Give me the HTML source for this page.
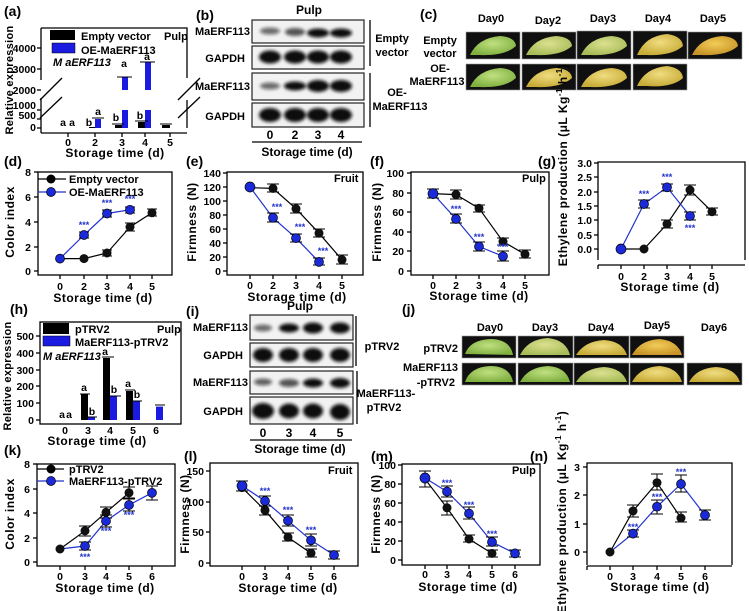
<!DOCTYPE html>
<html><head><meta charset="utf-8"><style>
html,body{margin:0;padding:0;background:#fff;}
svg{display:block;font-family:"Liberation Sans",Arial,sans-serif;font-weight:bold;}
.t{font-size:10.5px;}
.ti{font-size:12px;}
.lg{font-size:11px;}
.p{font-size:14px;}
.s{font-size:9px;fill:#2233cc;}
</style></head><body>
<svg width="749" height="611" viewBox="0 0 749 611" xmlns="http://www.w3.org/2000/svg">
<defs>
<filter id="bl" x="-20%" y="-50%" width="140%" height="200%"><feGaussianBlur stdDeviation="1.6"/></filter>
<radialGradient id="gG" cx="50%" cy="40%" r="60%"><stop offset="0" stop-color="#c0e080"/><stop offset="1" stop-color="#80b040"/></radialGradient>
<radialGradient id="gL" cx="50%" cy="40%" r="60%"><stop offset="0" stop-color="#dce090"/><stop offset="1" stop-color="#a8bc58"/></radialGradient>
<radialGradient id="gY" cx="50%" cy="40%" r="60%"><stop offset="0" stop-color="#f0dc80"/><stop offset="1" stop-color="#c8ac38"/></radialGradient>
<radialGradient id="gO" cx="50%" cy="40%" r="60%"><stop offset="0" stop-color="#f2cc58"/><stop offset="1" stop-color="#c89428"/></radialGradient>
</defs>

<!-- ================= (a) ================= -->
<text x="4" y="16" class="p">(a)</text>
<g fill="none" stroke="#000" stroke-width="1.3">
<polyline points="41,28 187,28 187,78"/><line x1="187" y1="100" x2="187" y2="128"/>
<line x1="41" y1="28" x2="41" y2="80"/><line x1="41" y1="98" x2="41" y2="133"/>
<line x1="41" y1="133" x2="187" y2="133"/>
<line x1="37" y1="48" x2="41" y2="48"/><line x1="37" y1="69" x2="41" y2="69"/><line x1="37" y1="90" x2="41" y2="90"/><line x1="37" y1="110" x2="41" y2="110"/><line x1="37" y1="119" x2="41" y2="119"/><line x1="37" y1="128" x2="41" y2="128"/>
<line x1="68" y1="133" x2="68" y2="137"/><line x1="95" y1="133" x2="95" y2="137"/><line x1="122" y1="133" x2="122" y2="137"/><line x1="145" y1="133" x2="145" y2="137"/><line x1="170" y1="133" x2="170" y2="137"/>
<line x1="40" y1="100" x2="62" y2="78"/><line x1="40" y1="118" x2="62" y2="97"/>
<line x1="178" y1="100" x2="200" y2="78"/><line x1="178" y1="118" x2="200" y2="97"/>
</g>
<g class="t" text-anchor="end"><text x="36" y="52">4000</text><text x="36" y="73">3000</text><text x="36" y="94">2000</text><text x="36" y="109">1000</text><text x="36" y="119">500</text><text x="36" y="131">0</text></g>
<g class="t" text-anchor="middle"><text x="68" y="146">0</text><text x="95" y="146">2</text><text x="122" y="146">3</text><text x="145" y="146">4</text><text x="170" y="146">5</text></g>
<text x="115" y="157" class="ti" text-anchor="middle" style="letter-spacing:0.5px">Storage time (d)</text>
<text transform="translate(13,80) rotate(-90)" class="lg" text-anchor="middle" style="letter-spacing:0.3px">Relative expression</text>
<rect x="50" y="30" width="25" height="10" fill="#000"/><rect x="52" y="43" width="23" height="10" fill="#1a1ae0" stroke="#000" stroke-width="0.5"/>
<text x="81" y="40" class="lg">Empty vector</text><text x="81" y="54" class="lg">OE-MaERF113</text>
<text x="164" y="40" class="lg">Pulp</text>
<text x="53" y="66" class="lg" font-style="italic">M aERF113</text>
<g fill="#000"><rect x="89" y="127" width="6" height="1"/><rect x="115" y="125" width="7" height="3"/><rect x="138" y="122" width="7" height="6"/><rect x="162" y="125" width="8" height="3"/></g>
<g fill="#1a1ae0"><rect x="95" y="119" width="6" height="9"/><rect x="122" y="110" width="6" height="18"/><rect x="122" y="77" width="6" height="13"/><rect x="145" y="110" width="6" height="18"/><rect x="145" y="62" width="6" height="28"/></g>
<g stroke="#000" stroke-width="1"><line x1="92" y1="118" x2="104" y2="118"/><line x1="117" y1="77" x2="132" y2="77"/><line x1="140" y1="62" x2="155" y2="62"/><line x1="112" y1="124" x2="124" y2="124"/><line x1="135" y1="121" x2="148" y2="121"/><line x1="160" y1="124" x2="172" y2="124"/></g>
<g class="t" text-anchor="middle"><text x="63" y="126">a</text><text x="72" y="126">a</text><text x="89" y="126">b</text><text x="98" y="115">a</text><text x="116" y="121">b</text><text x="124" y="67">a</text><text x="140" y="119">b</text><text x="147" y="60">a</text></g>

<!-- ================= (b) ================= -->
<text x="196" y="20" class="p">(b)</text>
<text x="309" y="14" class="ti" text-anchor="middle">Pulp</text>
<g fill="#f2f2f2" stroke="#222" stroke-width="1.2"><rect x="252" y="20" width="112" height="23"/><rect x="252" y="46" width="112" height="23"/><rect x="252" y="73" width="112" height="27"/><rect x="252" y="103" width="112" height="24"/></g>
<g fill="#111" filter="url(#bl)">
<ellipse cx="270" cy="31" rx="10" ry="3.5" opacity="0.6"/><ellipse cx="295" cy="32" rx="10" ry="4" opacity="0.7"/><ellipse cx="318" cy="33" rx="11" ry="4.5"/><ellipse cx="341" cy="33" rx="11" ry="4.5"/>
<ellipse cx="270" cy="57" rx="11" ry="6.5"/><ellipse cx="295" cy="57" rx="11" ry="6.5"/><ellipse cx="318" cy="57" rx="11" ry="6.5"/><ellipse cx="341" cy="57" rx="11" ry="6.5"/>
<ellipse cx="270" cy="86" rx="10" ry="3.5" opacity="0.6"/><ellipse cx="295" cy="86" rx="11" ry="4.5"/><ellipse cx="318" cy="86" rx="11" ry="6"/><ellipse cx="341" cy="86" rx="11" ry="6"/>
<ellipse cx="270" cy="115" rx="11" ry="7"/><ellipse cx="295" cy="115" rx="11" ry="7"/><ellipse cx="318" cy="115" rx="11" ry="7"/><ellipse cx="341" cy="115" rx="11" ry="7"/>
</g>
<g class="lg" text-anchor="end"><text x="250" y="35">MaERF113</text><text x="245" y="62">GAPDH</text><text x="250" y="90">MaERF113</text><text x="245" y="120">GAPDH</text></g>
<g class="ti" text-anchor="middle"><text x="270" y="139">0</text><text x="295" y="139">2</text><text x="318" y="139">3</text><text x="341" y="139">4</text></g>
<line x1="252" y1="142" x2="362" y2="142" stroke="#000" stroke-width="1.2"/>
<text x="307" y="156" class="ti" text-anchor="middle">Storage time (d)</text>
<g stroke="#000" stroke-width="1.3"><line x1="370" y1="20" x2="370" y2="66"/><line x1="370" y1="73" x2="370" y2="127"/></g>
<g class="lg" text-anchor="middle"><text x="392" y="42">Empty</text><text x="392" y="56">vector</text><text x="397" y="96">OE-</text><text x="400" y="110">MaERF113</text></g>

<!-- ================= (c) ================= -->
<text x="420" y="19" class="p">(c)</text>
<g class="lg" text-anchor="middle"><text x="491" y="22">Day0</text><text x="548" y="24">Day2</text><text x="603" y="22">Day3</text><text x="658" y="22">Day4</text><text x="713" y="22">Day5</text>
<text x="440" y="44">Empty</text><text x="440" y="57">vector</text><text x="440" y="72">OE-</text><text x="437" y="85">MaERF113</text></g>
<g fill="#101010" stroke="#999" stroke-width="0.6">
<rect x="466" y="32" width="54" height="27"/><rect x="522" y="32" width="54" height="27"/><rect x="577" y="31" width="54" height="28"/><rect x="633" y="31" width="54" height="28"/><rect x="688" y="32" width="54" height="27"/>
<rect x="466" y="64" width="54" height="26"/><rect x="522" y="64" width="54" height="26"/><rect x="577" y="64" width="54" height="26"/><rect x="633" y="64" width="54" height="26"/>
</g>
<g>
<path d="M470,55 Q478,38 500,36 Q515,37 516,46 Q505,56 480,55 Z" fill="url(#gG)"/>
<path d="M526,55 Q534,38 556,36 Q571,37 572,46 Q561,56 536,55 Z" fill="url(#gL)"/>
<path d="M581,55 Q589,38 611,36 Q626,37 627,46 Q616,56 591,55 Z" fill="url(#gL)"/>
<path d="M637,55 Q645,36 667,34 Q682,36 683,46 Q672,56 647,55 Z" fill="url(#gY)"/>
<path d="M692,55 Q700,38 722,36 Q737,37 738,46 Q727,56 702,55 Z" fill="url(#gO)"/>
<path d="M470,87 Q478,70 500,68 Q515,69 516,78 Q505,88 480,87 Z" fill="url(#gG)"/>
<path d="M526,87 Q534,70 556,68 Q571,69 572,78 Q561,88 536,87 Z" fill="url(#gY)"/>
<path d="M581,87 Q589,70 611,68 Q626,69 627,78 Q616,88 591,87 Z" fill="url(#gY)"/>
<path d="M637,86 Q645,68 667,66 Q682,68 683,78 Q672,88 647,86 Z" fill="url(#gY)"/>
</g>

<!-- ================= (d) ================= -->
<text x="4" y="166" class="p">(d)</text>
<g fill="none" stroke="#000" stroke-width="1.3"><rect x="38" y="172" width="134" height="103"/>
<line x1="34" y1="172" x2="38" y2="172"/><line x1="34" y1="197" x2="38" y2="197"/><line x1="34" y1="222" x2="38" y2="222"/><line x1="34" y1="247" x2="38" y2="247"/><line x1="34" y1="271" x2="38" y2="271"/>
<line x1="60" y1="275" x2="60" y2="279"/><line x1="84" y1="275" x2="84" y2="279"/><line x1="107" y1="275" x2="107" y2="279"/><line x1="130" y1="275" x2="130" y2="279"/><line x1="152" y1="275" x2="152" y2="279"/></g>
<g class="t" text-anchor="end"><text x="31" y="176">8</text><text x="31" y="201">6</text><text x="31" y="226">4</text><text x="31" y="251">2</text><text x="31" y="275">0</text></g>
<g class="t" text-anchor="middle"><text x="60" y="290">0</text><text x="84" y="290">2</text><text x="107" y="290">3</text><text x="130" y="290">4</text><text x="152" y="290">5</text></g>
<text x="103" y="302" class="ti" text-anchor="middle" style="letter-spacing:0.5px">Storage time (d)</text>
<text transform="translate(14,222) rotate(-90)" class="ti" text-anchor="middle" style="letter-spacing:0.5px">Color index</text>
<line x1="38" y1="179" x2="66" y2="179" stroke="#000" stroke-width="1.3"/><circle cx="51" cy="179" r="4.5"/>
<line x1="38" y1="192" x2="66" y2="192" stroke="#2233cc" stroke-width="1.3"/><circle cx="51" cy="192" r="4.5" fill="#1a2ad8" stroke="#000" stroke-width="0.7"/>
<text x="69" y="183" class="lg">Empty vector</text><text x="69" y="196" class="lg">OE-MaERF113</text>
<polyline points="60,258.6 84,258.6 107,253 130,227 152,212.8" fill="none" stroke="#000" stroke-width="1.2"/>
<polyline points="60,258.6 84,235 107,213.5 130,209.8" fill="none" stroke="#2233cc" stroke-width="1.2"/>
<g stroke="#000" stroke-width="1"><path d="M84,232v6M79,232h10M79,238h10M107,250v6M102,250h10M102,256h10M130,223v8M125,223h10M125,231h10M152,209v7M147,209h10M147,216h10M107,210v7M102,210h10M102,217h10M130,207v6M125,207h10M125,213h10"/></g>
<g fill="#111"><circle cx="84" cy="258.6" r="4.5"/><circle cx="107" cy="253" r="4.5"/><circle cx="130" cy="227" r="4.5"/><circle cx="152" cy="212.8" r="4.5"/></g>
<g fill="#1a2ad8" stroke="#000" stroke-width="0.7"><circle cx="60" cy="258.6" r="4.5"/><circle cx="84" cy="235" r="4.5"/><circle cx="107" cy="213.5" r="4.5"/><circle cx="130" cy="209.8" r="4.5"/></g>
<g class="s" text-anchor="middle"><text x="84" y="228">***</text><text x="107" y="206">***</text><text x="130" y="202">***</text></g>

<!-- ================= (e) ================= -->
<text x="186" y="166" class="p">(e)</text>
<g fill="none" stroke="#000" stroke-width="1.3"><rect x="227" y="172" width="136" height="103"/>
<line x1="223" y1="173" x2="227" y2="173"/><line x1="223" y1="187" x2="227" y2="187"/><line x1="223" y1="201" x2="227" y2="201"/><line x1="223" y1="215" x2="227" y2="215"/><line x1="223" y1="229" x2="227" y2="229"/><line x1="223" y1="243" x2="227" y2="243"/><line x1="223" y1="257" x2="227" y2="257"/><line x1="223" y1="271" x2="227" y2="271"/>
<line x1="250" y1="275" x2="250" y2="279"/><line x1="273" y1="275" x2="273" y2="279"/><line x1="296" y1="275" x2="296" y2="279"/><line x1="319" y1="275" x2="319" y2="279"/><line x1="342" y1="275" x2="342" y2="279"/></g>
<g class="t" text-anchor="end"><text x="221" y="177">140</text><text x="221" y="191">120</text><text x="221" y="205">100</text><text x="221" y="219">80</text><text x="221" y="233">60</text><text x="221" y="247">40</text><text x="221" y="261">20</text><text x="221" y="275">0</text></g>
<g class="t" text-anchor="middle"><text x="250" y="289">0</text><text x="273" y="289">2</text><text x="296" y="289">3</text><text x="319" y="289">4</text><text x="342" y="289">5</text></g>
<text x="297" y="301" class="ti" text-anchor="middle" style="letter-spacing:0.5px">Storage time (d)</text>
<text transform="translate(196,222) rotate(-90)" class="ti" text-anchor="middle" style="letter-spacing:0.5px">Firmness (N)</text>
<text x="334" y="182" class="lg">Fruit</text>
<polyline points="250,187.7 273,188.4 296,208.7 319,233.2 342,259.8" fill="none" stroke="#000" stroke-width="1.2"/>
<polyline points="250,187 273,217.8 296,238.1 319,261.9" fill="none" stroke="#2233cc" stroke-width="1.2"/>
<g stroke="#000" stroke-width="1"><path d="M273,184v8M267,184h12M267,192h12M296,204v9M290,204h12M290,213h12M319,229v8M313,229h12M313,237h12M342,255v9M336,255h12M336,264h12M273,213v9M267,213h12M267,222h12M296,234v8M290,234h12M290,242h12M319,258v7M313,258h12M313,265h12"/></g>
<g fill="#111"><circle cx="273" cy="188.4" r="4.5"/><circle cx="296" cy="208.7" r="4.5"/><circle cx="319" cy="233.2" r="4.5"/><circle cx="342" cy="259.8" r="4.5"/></g>
<g fill="#1a2ad8" stroke="#000" stroke-width="0.7"><circle cx="250" cy="187" r="5"/><circle cx="273" cy="217.8" r="4.5"/><circle cx="296" cy="238.1" r="4.5"/><circle cx="319" cy="261.9" r="4.5"/></g>
<g class="s" text-anchor="middle"><text x="277" y="210">***</text><text x="300" y="230">***</text><text x="323" y="254">***</text></g>

<!-- ================= (f) ================= -->
<text x="370" y="166" class="p">(f)</text>
<g fill="none" stroke="#000" stroke-width="1.3"><rect x="411" y="172" width="138" height="103"/>
<line x1="407" y1="173" x2="411" y2="173"/><line x1="407" y1="193" x2="411" y2="193"/><line x1="407" y1="212" x2="411" y2="212"/><line x1="407" y1="232" x2="411" y2="232"/><line x1="407" y1="251" x2="411" y2="251"/><line x1="407" y1="271" x2="411" y2="271"/>
<line x1="433" y1="275" x2="433" y2="279"/><line x1="456" y1="275" x2="456" y2="279"/><line x1="479" y1="275" x2="479" y2="279"/><line x1="503" y1="275" x2="503" y2="279"/><line x1="525" y1="275" x2="525" y2="279"/></g>
<g class="t" text-anchor="end"><text x="404" y="177">100</text><text x="404" y="197">80</text><text x="404" y="216">60</text><text x="404" y="236">40</text><text x="404" y="255">20</text><text x="404" y="275">0</text></g>
<g class="t" text-anchor="middle"><text x="433" y="289">0</text><text x="456" y="289">2</text><text x="479" y="289">3</text><text x="503" y="289">4</text><text x="525" y="289">5</text></g>
<text x="479" y="300" class="ti" text-anchor="middle" style="letter-spacing:0.5px">Storage time (d)</text>
<text transform="translate(381,222) rotate(-90)" class="ti" text-anchor="middle" style="letter-spacing:0.5px">Firmness (N)</text>
<text x="522" y="182" class="lg">Pulp</text>
<polyline points="433,193.6 456,194.6 479,208.3 503,241.6 525,254.3" fill="none" stroke="#000" stroke-width="1.2"/>
<polyline points="433,193.6 456,219 479,246.5 503,256.3" fill="none" stroke="#2233cc" stroke-width="1.2"/>
<g stroke="#000" stroke-width="1"><path d="M433,189v9M427,189h12M427,198h12M456,190v9M450,190h12M450,199h12M479,205v7M473,205h12M473,212h12M503,238v7M497,238h12M497,245h12M525,250v8M519,250h12M519,258h12M456,214v9M450,214h12M450,223h12M479,242v9M473,242h12M473,251h12M503,251v10M497,251h12M497,261h12"/></g>
<g fill="#111"><circle cx="456" cy="194.6" r="4.5"/><circle cx="479" cy="208.3" r="4.5"/><circle cx="503" cy="241.6" r="4.5"/><circle cx="525" cy="254.3" r="4.5"/></g>
<g fill="#1a2ad8" stroke="#000" stroke-width="0.7"><circle cx="433" cy="193.6" r="5"/><circle cx="456" cy="219" r="4.5"/><circle cx="479" cy="246.5" r="4.5"/><circle cx="503" cy="256.3" r="4.5"/></g>
<g class="s" text-anchor="middle"><text x="456" y="212">***</text><text x="479" y="240">***</text><text x="503" y="250">***</text></g>

<!-- ================= (g) ================= -->
<text x="538" y="166" class="p">(g)</text>
<g fill="none" stroke="#000" stroke-width="1.3"><polyline points="598,260 598,162 745,162 745,260"/>
<line x1="598" y1="265" x2="745" y2="265"/>
<line x1="594" y1="163" x2="598" y2="163"/><line x1="594" y1="177" x2="598" y2="177"/><line x1="594" y1="192" x2="598" y2="192"/><line x1="594" y1="206" x2="598" y2="206"/><line x1="594" y1="220" x2="598" y2="220"/><line x1="594" y1="235" x2="598" y2="235"/><line x1="594" y1="249" x2="598" y2="249"/>
<line x1="598" y1="265" x2="598" y2="269"/><line x1="621" y1="265" x2="621" y2="269"/><line x1="644" y1="265" x2="644" y2="269"/><line x1="667" y1="265" x2="667" y2="269"/><line x1="690" y1="265" x2="690" y2="269"/><line x1="712" y1="265" x2="712" y2="269"/></g>
<g class="t" text-anchor="end"><text x="592" y="167">3.0</text><text x="592" y="181">2.5</text><text x="592" y="196">2.0</text><text x="592" y="210">1.5</text><text x="592" y="224">1.0</text><text x="592" y="239">0.5</text><text x="592" y="253">0.0</text></g>
<g class="t" text-anchor="middle"><text x="621" y="280">0</text><text x="644" y="280">2</text><text x="667" y="280">3</text><text x="690" y="280">4</text><text x="712" y="280">5</text></g>
<text x="670" y="291" class="ti" text-anchor="middle" style="letter-spacing:0.5px">Storage time (d)</text>
<text transform="translate(567,165) rotate(-90)" class="ti" text-anchor="middle" style="letter-spacing:0.5px">Ethylene production (μL Kg<tspan font-size="8" dy="-5">-1</tspan><tspan dy="5"> h</tspan><tspan font-size="8" dy="-5">-1</tspan><tspan dy="5">)</tspan></text>
<polyline points="621,249 644,249 667,224 690,190 712,211.7" fill="none" stroke="#000" stroke-width="1.2"/>
<polyline points="621,249 644,204 667,187.3 690,216" fill="none" stroke="#2233cc" stroke-width="1.2"/>
<g stroke="#000" stroke-width="1"><path d="M667,220v8M661,220h12M661,228h12M690,185v10M684,185h12M684,195h12M712,208v7M706,208h12M706,215h12M644,200v8M638,200h12M638,208h12M667,184v7M661,184h12M661,191h12M690,212v8M684,212h12M684,220h12"/></g>
<g fill="#111"><circle cx="644" cy="249" r="4.5"/><circle cx="667" cy="224" r="4.5"/><circle cx="690" cy="190" r="4.5"/><circle cx="712" cy="211.7" r="4.5"/></g>
<g fill="#1a2ad8" stroke="#000" stroke-width="0.7"><circle cx="621" cy="249" r="5"/><circle cx="644" cy="204" r="4.5"/><circle cx="667" cy="187.3" r="4.5"/><circle cx="690" cy="216" r="4.5"/></g>
<g class="s" text-anchor="middle"><text x="644" y="197">***</text><text x="667" y="180">***</text><text x="690" y="231">***</text></g>

<!-- ================= (h) ================= -->
<text x="10" y="314" class="p">(h)</text>
<g fill="none" stroke="#000" stroke-width="1.3"><rect x="40" y="322" width="141" height="102"/>
<line x1="36" y1="336" x2="40" y2="336"/><line x1="36" y1="353" x2="40" y2="353"/><line x1="36" y1="370" x2="40" y2="370"/><line x1="36" y1="386" x2="40" y2="386"/><line x1="36" y1="403" x2="40" y2="403"/><line x1="36" y1="420" x2="40" y2="420"/></g>
<g class="t" text-anchor="end"><text x="34" y="340">500</text><text x="34" y="357">400</text><text x="34" y="374">300</text><text x="34" y="390">200</text><text x="34" y="407">100</text><text x="34" y="424">0</text></g>
<g class="t" text-anchor="middle"><text x="65" y="434">0</text><text x="88" y="434">3</text><text x="110" y="434">4</text><text x="133" y="434">5</text><text x="156" y="434">6</text></g>
<text x="97" y="445" class="ti" text-anchor="middle" style="letter-spacing:0.5px">Storage time (d)</text>
<text transform="translate(11,376) rotate(-90)" class="lg" text-anchor="middle" style="letter-spacing:0.3px">Relative expression</text>
<rect x="43" y="323" width="26" height="11" fill="#000"/><rect x="43" y="336" width="27" height="10" fill="#1a1ae0" stroke="#000" stroke-width="0.5"/>
<text x="75" y="333" class="lg">pTRV2</text><text x="75" y="346" class="lg">MaERF113-pTRV2</text>
<text x="157" y="333" class="lg">Pulp</text>
<text x="43" y="360" class="lg" font-style="italic">M aERF113</text>
<g fill="#000"><rect x="81" y="394" width="7" height="26"/><rect x="103" y="358" width="7" height="62"/><rect x="126" y="391" width="7" height="29"/></g>
<g fill="#1a1ae0"><rect x="88" y="417.5" width="7" height="2.5"/><rect x="110" y="396.5" width="7" height="23.5"/><rect x="133" y="401.5" width="7" height="18.5"/><rect x="156" y="406.6" width="7" height="13.4"/></g>
<g stroke="#000" stroke-width="1"><path d="M80,394h10M102,357h12M125,390h10M87,417h10M109,396h12M132,401h10M155,405h10"/></g>
<g class="t" text-anchor="middle"><text x="62" y="418">a</text><text x="69" y="418">a</text><text x="84" y="391">a</text><text x="92" y="415">b</text><text x="105" y="355">a</text><text x="114" y="393">b</text><text x="128" y="387">a</text><text x="137" y="398">b</text></g>

<!-- ================= (i) ================= -->
<text x="186" y="316" class="p">(i)</text>
<text x="300" y="310" class="ti" text-anchor="middle">Pulp</text>
<g fill="#f2f2f2" stroke="#222" stroke-width="1.2"><rect x="250" y="315" width="103" height="25"/><rect x="250" y="343" width="103" height="24"/><rect x="250" y="371" width="103" height="23"/><rect x="250" y="397" width="103" height="27"/></g>
<g fill="#111" filter="url(#bl)">
<ellipse cx="263" cy="328" rx="9" ry="3.5" opacity="0.6"/><ellipse cx="289" cy="328" rx="10" ry="4.5"/><ellipse cx="313" cy="328" rx="10" ry="5.5"/><ellipse cx="340" cy="328" rx="10" ry="5.5"/>
<ellipse cx="263" cy="355" rx="10" ry="7"/><ellipse cx="289" cy="355" rx="10" ry="7"/><ellipse cx="313" cy="355" rx="10" ry="7"/><ellipse cx="340" cy="355" rx="10" ry="7"/>
<ellipse cx="263" cy="382" rx="9" ry="3.5" opacity="0.65"/><ellipse cx="289" cy="383" rx="10" ry="4" opacity="0.7"/><ellipse cx="313" cy="383" rx="10" ry="4.5"/><ellipse cx="340" cy="383" rx="10" ry="5"/>
<ellipse cx="263" cy="411" rx="11" ry="8"/><ellipse cx="289" cy="411" rx="10" ry="7.5"/><ellipse cx="313" cy="411" rx="10" ry="7.5"/><ellipse cx="340" cy="412" rx="10" ry="8"/>
</g>
<g class="lg" text-anchor="end"><text x="248" y="331">MaERF113</text><text x="243" y="359">GAPDH</text><text x="248" y="386">MaERF113</text><text x="243" y="415">GAPDH</text></g>
<g class="ti" text-anchor="middle"><text x="263" y="437">0</text><text x="289" y="437">3</text><text x="313" y="437">4</text><text x="340" y="437">5</text></g>
<line x1="250" y1="440" x2="352" y2="440" stroke="#000" stroke-width="1.2"/>
<text x="300" y="453" class="ti" text-anchor="middle">Storage time (d)</text>
<g stroke="#000" stroke-width="1.3"><line x1="356" y1="316" x2="356" y2="366"/><line x1="357" y1="371" x2="357" y2="424"/></g>
<g class="lg" text-anchor="middle"><text x="382" y="350">pTRV2</text><text x="386" y="397">MaERF113-</text><text x="384" y="411">pTRV2</text></g>

<!-- ================= (j) ================= -->
<text x="402" y="314" class="p">(j)</text>
<g class="lg" text-anchor="middle"><text x="490" y="331">Day0</text><text x="545" y="331">Day3</text><text x="601" y="331">Day4</text><text x="657" y="329">Day5</text><text x="714" y="331">Day6</text></g>
<g class="lg" text-anchor="end"><text x="458" y="352">pTRV2</text><text x="458" y="371">MaERF113</text><text x="455" y="386">-pTRV2</text></g>
<g fill="#101010" stroke="#999" stroke-width="0.6">
<rect x="462" y="336" width="54" height="22"/><rect x="518" y="336" width="55" height="22"/><rect x="574" y="336" width="55" height="22"/><rect x="630" y="336" width="54" height="22"/>
<rect x="462" y="363" width="54" height="22"/><rect x="518" y="363" width="55" height="22"/><rect x="574" y="363" width="55" height="22"/><rect x="630" y="363" width="54" height="22"/><rect x="687" y="363" width="55" height="22"/>
</g>
<g>
<path d="M465,354 Q470,340 490,339 Q510,339 513,355 Z" fill="url(#gG)"/>
<path d="M520,355 Q528,339 548,338 Q566,340 570,355 Z" fill="url(#gL)"/>
<path d="M576,355 Q585,341 604,340 Q622,341 627,355 Z" fill="url(#gY)"/>
<path d="M632,355 Q640,340 660,339 Q678,341 682,355 Z" fill="url(#gO)"/>
<path d="M465,382 Q470,367 490,366 Q510,366 513,382 Z" fill="url(#gG)"/>
<path d="M520,382 Q528,367 548,366 Q566,367 570,382 Z" fill="url(#gG)"/>
<path d="M576,382 Q585,368 604,367 Q622,368 627,382 Z" fill="url(#gL)"/>
<path d="M632,382 Q640,367 660,366 Q678,368 682,382 Z" fill="url(#gY)"/>
<path d="M689,382 Q697,368 716,367 Q735,368 740,382 Z" fill="url(#gY)"/>
</g>

<!-- ================= (k) ================= -->
<text x="4" y="455" class="p">(k)</text>
<g fill="none" stroke="#000" stroke-width="1.3"><rect x="37" y="464" width="138" height="102"/>
<line x1="33" y1="464" x2="37" y2="464"/><line x1="33" y1="489" x2="37" y2="489"/><line x1="33" y1="513" x2="37" y2="513"/><line x1="33" y1="538" x2="37" y2="538"/><line x1="33" y1="562" x2="37" y2="562"/>
<line x1="60" y1="566" x2="60" y2="570"/><line x1="85" y1="566" x2="85" y2="570"/><line x1="106" y1="566" x2="106" y2="570"/><line x1="129" y1="566" x2="129" y2="570"/><line x1="152" y1="566" x2="152" y2="570"/></g>
<g class="t" text-anchor="end"><text x="30" y="468">8</text><text x="30" y="493">6</text><text x="30" y="517">4</text><text x="30" y="542">2</text><text x="30" y="566">0</text></g>
<g class="t" text-anchor="middle"><text x="60" y="580">0</text><text x="85" y="580">3</text><text x="106" y="580">4</text><text x="129" y="580">5</text><text x="152" y="580">6</text></g>
<text x="105" y="592" class="ti" text-anchor="middle" style="letter-spacing:0.5px">Storage time (d)</text>
<text transform="translate(14,514) rotate(-90)" class="ti" text-anchor="middle" style="letter-spacing:0.5px">Color index</text>
<line x1="37" y1="469" x2="64" y2="469" stroke="#000" stroke-width="1.3"/><circle cx="51" cy="469" r="4.5"/>
<line x1="37" y1="481" x2="64" y2="481" stroke="#2233cc" stroke-width="1.3"/><circle cx="51" cy="481" r="4.5" fill="#1a2ad8" stroke="#000" stroke-width="0.7"/>
<text x="69" y="473" class="lg">pTRV2</text><text x="69" y="485" class="lg">MaERF113-pTRV2</text>
<polyline points="60,549 85,530.8 106,512.4 129,492.8" fill="none" stroke="#000" stroke-width="1.2"/>
<polyline points="60,549 85,546 106,521 129,505 152,492.8" fill="none" stroke="#2233cc" stroke-width="1.2"/>
<g stroke="#000" stroke-width="1"><path d="M85,526v10M79,526h12M79,536h12M106,507v11M100,507h12M100,518h12M129,487v11M123,487h12M123,498h12M85,542v8M79,542h12M79,550h12M106,515v12M100,515h12M100,527h12M129,499v12M123,499h12M123,511h12M152,486v14M146,486h12M146,500h12"/></g>
<g fill="#111"><circle cx="60" cy="549" r="4.5"/><circle cx="85" cy="530.8" r="4.5"/><circle cx="106" cy="512.4" r="4.5"/><circle cx="129" cy="492.8" r="4.5"/></g>
<g fill="#1a2ad8" stroke="#000" stroke-width="0.7"><circle cx="85" cy="546" r="4.5"/><circle cx="106" cy="521" r="4.5"/><circle cx="129" cy="505" r="4.5"/><circle cx="152" cy="492.8" r="4.5"/></g>
<g class="s" text-anchor="middle"><text x="85" y="560">***</text><text x="106" y="534">***</text><text x="129" y="518">***</text></g>

<!-- ================= (l) ================= -->
<text x="184" y="461" class="p">(l)</text>
<g fill="none" stroke="#000" stroke-width="1.3"><rect x="210" y="463" width="148" height="103"/>
<line x1="206" y1="471" x2="210" y2="471"/><line x1="206" y1="502" x2="210" y2="502"/><line x1="206" y1="532" x2="210" y2="532"/><line x1="206" y1="563" x2="210" y2="563"/>
<line x1="242" y1="566" x2="242" y2="570"/><line x1="265" y1="566" x2="265" y2="570"/><line x1="288" y1="566" x2="288" y2="570"/><line x1="311" y1="566" x2="311" y2="570"/><line x1="334" y1="566" x2="334" y2="570"/></g>
<g class="t" text-anchor="end"><text x="204" y="475">150</text><text x="204" y="506">100</text><text x="204" y="536">50</text><text x="204" y="567">0</text></g>
<g class="t" text-anchor="middle"><text x="242" y="580">0</text><text x="265" y="580">3</text><text x="288" y="580">4</text><text x="311" y="580">5</text><text x="334" y="580">6</text></g>
<text x="288" y="592" class="ti" text-anchor="middle" style="letter-spacing:0.5px">Storage time (d)</text>
<text transform="translate(189,514) rotate(-90)" class="ti" text-anchor="middle" style="letter-spacing:0.5px">Firmness (N)</text>
<text x="328" y="474" class="lg">Fruit</text>
<polyline points="242,487.6 265,510.3 288,537.3 311,553.2" fill="none" stroke="#000" stroke-width="1.2"/>
<polyline points="242,485.8 265,501 288,520.7 311,540.3 334,555" fill="none" stroke="#2233cc" stroke-width="1.2"/>
<g stroke="#000" stroke-width="1"><path d="M242,481v10M236,481h12M236,491h12M265,506v9M259,506h12M259,515h12M288,533v8M282,533h12M282,541h12M311,549v8M305,549h12M305,557h12M265,496v10M259,496h12M259,506h12M288,515v11M282,515h12M282,526h12M311,534v12M305,534h12M305,546h12M334,551v8M328,551h12M328,559h12"/></g>
<g fill="#111"><circle cx="242" cy="487.6" r="4.5"/><circle cx="265" cy="510.3" r="4.5"/><circle cx="288" cy="537.3" r="4.5"/><circle cx="311" cy="553.2" r="4.5"/></g>
<g fill="#1a2ad8" stroke="#000" stroke-width="0.7"><circle cx="242" cy="485.8" r="5"/><circle cx="265" cy="501" r="4.5"/><circle cx="288" cy="520.7" r="4.5"/><circle cx="311" cy="540.3" r="4.5"/><circle cx="334" cy="555" r="4.5"/></g>
<g class="s" text-anchor="middle"><text x="265" y="494">***</text><text x="288" y="513">***</text><text x="311" y="533">***</text></g>

<!-- ================= (m) ================= -->
<text x="371" y="461" class="p">(m)</text>
<g fill="none" stroke="#000" stroke-width="1.3"><rect x="402" y="464" width="138" height="101"/>
<line x1="398" y1="465" x2="402" y2="465"/><line x1="398" y1="484" x2="402" y2="484"/><line x1="398" y1="503" x2="402" y2="503"/><line x1="398" y1="522" x2="402" y2="522"/><line x1="398" y1="541" x2="402" y2="541"/><line x1="398" y1="560" x2="402" y2="560"/>
<line x1="425" y1="565" x2="425" y2="569"/><line x1="447" y1="565" x2="447" y2="569"/><line x1="469" y1="565" x2="469" y2="569"/><line x1="492" y1="565" x2="492" y2="569"/><line x1="515" y1="565" x2="515" y2="569"/></g>
<g class="t" text-anchor="end"><text x="396" y="469">100</text><text x="396" y="488">80</text><text x="396" y="507">60</text><text x="396" y="526">40</text><text x="396" y="545">20</text><text x="396" y="564">0</text></g>
<g class="t" text-anchor="middle"><text x="425" y="578">0</text><text x="447" y="578">3</text><text x="469" y="578">4</text><text x="492" y="578">5</text><text x="515" y="578">6</text></g>
<text x="468" y="591" class="ti" text-anchor="middle" style="letter-spacing:0.5px">Storage time (d)</text>
<text transform="translate(380,514) rotate(-90)" class="ti" text-anchor="middle" style="letter-spacing:0.5px">Firmness (N)</text>
<text x="512" y="474" class="lg">Pulp</text>
<polyline points="425,479 447,507.8 469,539 492,553.4" fill="none" stroke="#000" stroke-width="1.2"/>
<polyline points="425,478 447,491.6 469,513.5 492,542 515,553.4" fill="none" stroke="#2233cc" stroke-width="1.2"/>
<g stroke="#000" stroke-width="1"><path d="M425,471v16M419,471h12M419,487h12M447,501v14M441,501h12M441,515h12M469,535v7M463,535h12M463,542h12M492,550v7M486,550h12M486,557h12M447,486v11M441,486h12M441,497h12M469,507v12M463,507h12M463,519h12M492,537v9M486,537h12M486,546h12M515,550v7M509,550h12M509,557h12"/></g>
<g fill="#111"><circle cx="425" cy="479" r="4.5"/><circle cx="447" cy="507.8" r="4.5"/><circle cx="469" cy="539" r="4.5"/><circle cx="492" cy="553.4" r="4.5"/></g>
<g fill="#1a2ad8" stroke="#000" stroke-width="0.7"><circle cx="425" cy="478" r="5"/><circle cx="447" cy="491.6" r="4.5"/><circle cx="469" cy="513.5" r="4.5"/><circle cx="492" cy="542" r="4.5"/><circle cx="515" cy="553.4" r="4.5"/></g>
<g class="s" text-anchor="middle"><text x="447" y="486">***</text><text x="469" y="508">***</text><text x="492" y="537">***</text></g>

<!-- ================= (n) ================= -->
<text x="530" y="461" class="p">(n)</text>
<g fill="none" stroke="#000" stroke-width="1.3"><polyline points="587,565 587,463 732,463 732,565"/>
<line x1="587" y1="566" x2="732" y2="566"/>
<line x1="583" y1="467" x2="587" y2="467"/><line x1="583" y1="495" x2="587" y2="495"/><line x1="583" y1="524" x2="587" y2="524"/><line x1="583" y1="552" x2="587" y2="552"/>
<line x1="587" y1="566" x2="587" y2="570"/><line x1="610" y1="566" x2="610" y2="570"/><line x1="633" y1="566" x2="633" y2="570"/><line x1="657" y1="566" x2="657" y2="570"/><line x1="681" y1="566" x2="681" y2="570"/><line x1="705" y1="566" x2="705" y2="570"/></g>
<g class="t" text-anchor="end"><text x="580" y="471">3</text><text x="580" y="499">2</text><text x="580" y="528">1</text><text x="580" y="556">0</text></g>
<g class="t" text-anchor="middle"><text x="610" y="580">0</text><text x="633" y="580">3</text><text x="657" y="580">4</text><text x="681" y="580">5</text><text x="705" y="580">6</text></g>
<text x="660" y="591" class="ti" text-anchor="middle" style="letter-spacing:0.5px">Storage time (d)</text>
<text transform="translate(566,512) rotate(-90)" class="ti" text-anchor="middle" style="letter-spacing:0.5px">Ethylene production (μL Kg<tspan font-size="8" dy="-5">-1</tspan><tspan dy="5"> h</tspan><tspan font-size="8" dy="-5">-1</tspan><tspan dy="5">)</tspan></text>
<polyline points="610,552 633,511 657,482.7 681,518" fill="none" stroke="#000" stroke-width="1.2"/>
<polyline points="610,552 633,533.6 657,506.7 681,484 705,515.2" fill="none" stroke="#2233cc" stroke-width="1.2"/>
<g stroke="#000" stroke-width="1"><path d="M633,505v12M627,505h12M627,517h12M657,474v16M651,474h12M651,490h12M681,512v10M675,512h12M675,522h12M633,530v7M627,530h12M627,537h12M657,500v14M651,500h12M651,514h12M681,475v17M675,475h12M675,492h12M705,510v10M699,510h12M699,520h12"/></g>
<g fill="#111"><circle cx="610" cy="552" r="4.5"/><circle cx="633" cy="511" r="4.5"/><circle cx="657" cy="482.7" r="4.5"/><circle cx="681" cy="518" r="4.5"/></g>
<g fill="#1a2ad8" stroke="#000" stroke-width="0.7"><circle cx="633" cy="533.6" r="4.5"/><circle cx="657" cy="506.7" r="4.5"/><circle cx="681" cy="484" r="4.5"/><circle cx="705" cy="515.2" r="4.5"/></g>
<g class="s" text-anchor="middle"><text x="633" y="530">***</text><text x="657" y="500">***</text><text x="681" y="475">***</text></g>
</svg>
</body></html>
